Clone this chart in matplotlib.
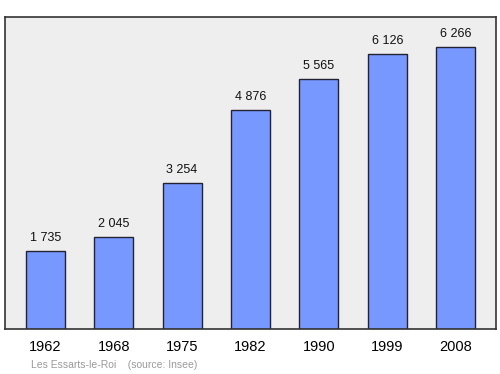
import matplotlib.pyplot as plt

plt.rcParams["font.family"] = ["Liberation Sans", "DejaVu Sans"]

years = ["1962", "1968", "1975", "1982", "1990", "1999", "2008"]
population = [1735, 2045, 3254, 4876, 5565, 6126, 6266]
labels = ["1 735", "2 045", "3 254", "4 876", "5 565", "6 126", "6 266"]

fig = plt.figure(figsize=(5, 3.74), dpi=100)
ax = fig.add_axes([0.01, 0.1203, 0.982, 0.834])
ax.set_facecolor("#eeeeee")

x = range(len(years))
ax.bar(x, population, width=0.57, color="#7799ff", edgecolor="#222233", linewidth=1, zorder=2)

for i, (v, lab) in enumerate(zip(population, labels)):
    ax.annotate(lab, (i, v), xytext=(0, 5), textcoords="offset points",
                ha="center", va="bottom", fontsize=9, color="#111111")

ax.set_xlim(-0.59, 6.59)
ax.set_ylim(0, 6940)
ax.set_yticks([])
ax.set_xticks(list(x))
ax.set_xticklabels(years, fontsize=10.5)
ax.tick_params(axis="x", length=0, pad=8)
for s in ax.spines.values():
    s.set_linewidth(1.2)
    s.set_color("#333333")

fig.text(0.062, 0.012, "Les Essarts-le-Roi    (source: Insee)", fontsize=7.5,
         color="#999999", ha="left", va="bottom")

fig.savefig("out.png", dpi=100)
